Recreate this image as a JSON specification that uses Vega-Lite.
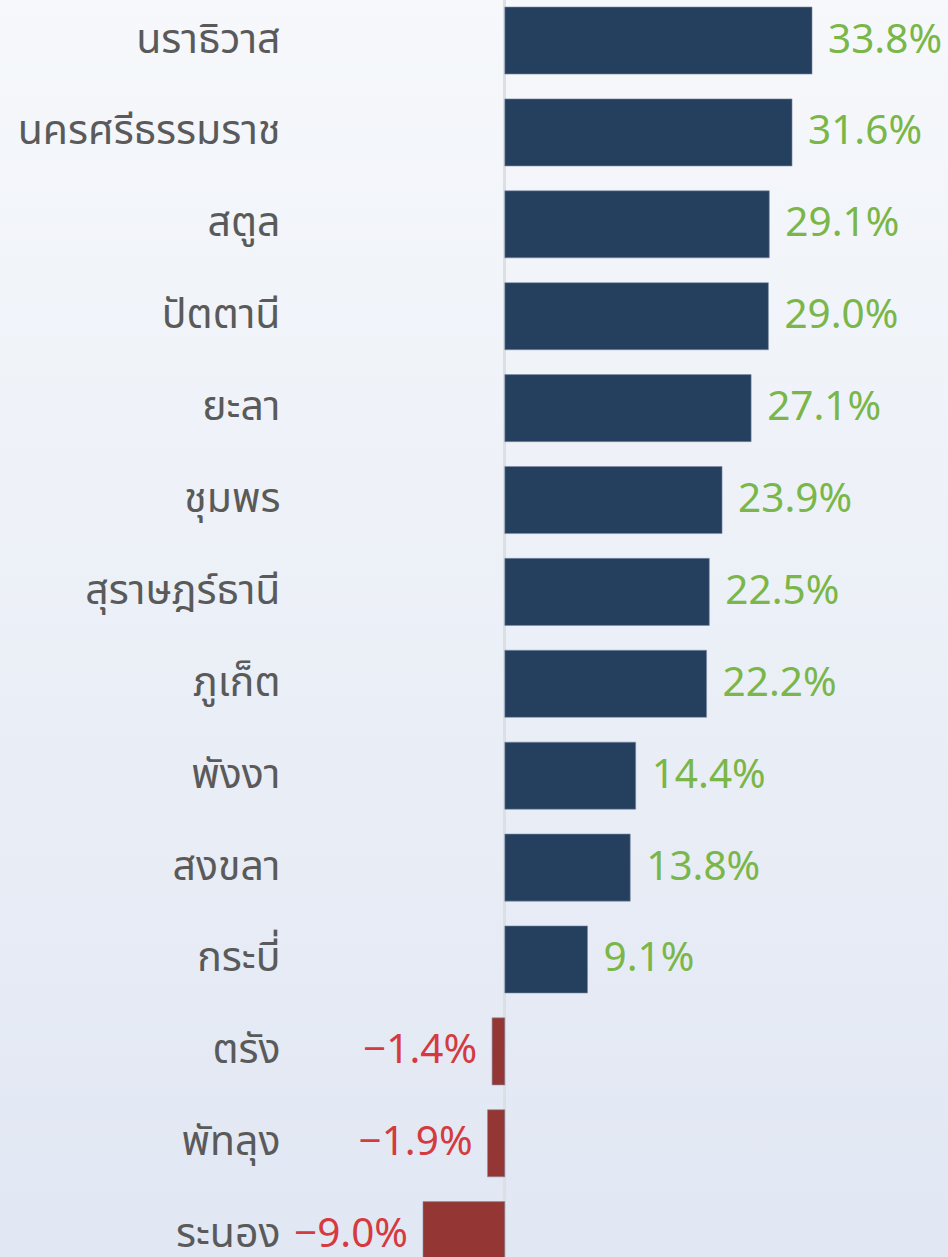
{
  "$schema": "https://vega.github.io/schema/vega-lite/v6.json",
  "width": 948,
  "height": 1257,
  "autosize": {"type": "none"},
  "padding": 0,
  "background": "#e8ecf5",
  "config": {
    "view": {
      "stroke": null,
      "fill": {"gradient": "linear", "x1": 0, "y1": 0, "x2": 0, "y2": 1,
        "stops": [{"offset": 0, "color": "#f6f8fb"}, {"offset": 1, "color": "#e1e7f3"}]}
    },
    "font": "Noto Sans"
  },
  "data": {"values": [
    {"province": "นราธิวาส", "v": 0.338},
    {"province": "นครศรีธรรมราช", "v": 0.316},
    {"province": "สตูล", "v": 0.291},
    {"province": "ปัตตานี", "v": 0.290},
    {"province": "ยะลา", "v": 0.271},
    {"province": "ชุมพร", "v": 0.239},
    {"province": "สุราษฎร์ธานี", "v": 0.225},
    {"province": "ภูเก็ต", "v": 0.222},
    {"province": "พังงา", "v": 0.144},
    {"province": "สงขลา", "v": 0.138},
    {"province": "กระบี่", "v": 0.091},
    {"province": "ตรัง", "v": -0.014},
    {"province": "พัทลุง", "v": -0.019},
    {"province": "ระนอง", "v": -0.090}
  ]},
  "layer": [
    {
      "mark": {"type": "rule", "color": "#dcdfe4", "strokeWidth": 2, "clip": true},
      "encoding": {"x": {"datum": 0, "type": "quantitative", "scale": {"domain": [-0.5554, 0.4876], "nice": false}, "axis": null}}
    },
    {
      "mark": {"type": "bar", "clip": true, "stroke": "#7f8ea6", "strokeWidth": 0.6},
      "encoding": {
        "y": {
          "field": "province", "type": "nominal", "sort": null,
          "scale": {"range": [7, 1268.7], "paddingInner": 0.27, "paddingOuter": 0},
          "axis": {"title": null, "orient": "left", "offset": -282, "ticks": false, "domain": false,
            "labelPadding": 2, "labelFontSize": 41, "labelColor": "#5a5a5a", "labelFont": "Noto Sans Thai, Noto Sans", "labelFontWeight": "normal", "labelLimit": 400}
        },
        "x": {"field": "v", "type": "quantitative", "scale": {"domain": [-0.5554, 0.4876], "nice": false, "zero": false}, "axis": null},
        "color": {"condition": {"test": "datum.v < 0", "value": "#943634"}, "value": "#253f5f"}
      }
    },
    {
      "transform": [{"filter": "datum.v >= 0"}],
      "mark": {"type": "text", "align": "left", "baseline": "middle", "dx": 16, "fontSize": 40.5, "color": "#7ab648"},
      "encoding": {
        "y": {"field": "province", "type": "nominal", "sort": null},
        "x": {"field": "v", "type": "quantitative"},
        "text": {"field": "v", "type": "quantitative", "format": ".1%"}
      }
    },
    {
      "transform": [{"filter": "datum.v < 0"}],
      "mark": {"type": "text", "align": "right", "baseline": "middle", "dx": -15, "fontSize": 40.5, "color": "#d43a3e"},
      "encoding": {
        "y": {"field": "province", "type": "nominal", "sort": null},
        "x": {"field": "v", "type": "quantitative"},
        "text": {"field": "v", "type": "quantitative", "format": ".1%"}
      }
    }
  ]
}
